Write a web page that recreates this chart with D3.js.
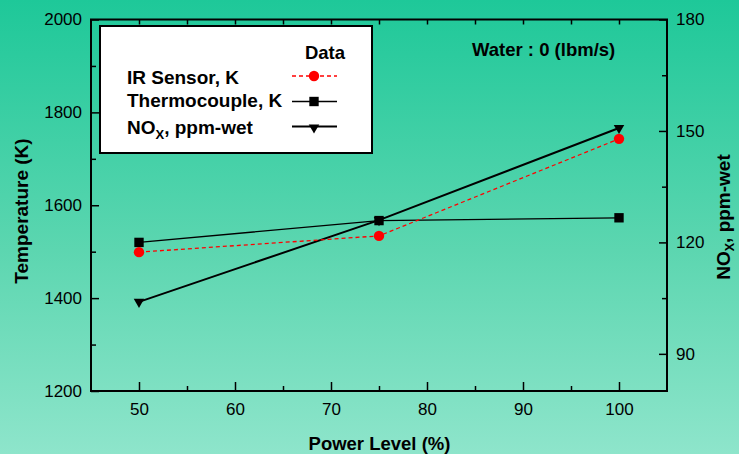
<!DOCTYPE html>
<html>
<head>
<meta charset="utf-8">
<script src="https://cdn.jsdelivr.net/npm/d3@7/dist/d3.min.js"></script>
<style>
  html, body { margin: 0; padding: 0; overflow: hidden; }
  svg { display: block; font-family: "Liberation Sans", Arial, sans-serif; }
</style>
</head>
<body>
<svg id="chart" width="739" height="454"></svg>
<script>
// Power level settings (%)
const power = [50, 75, 100];
// Temperatures (K)
const irSensor = [1499, 1534, 1743];
const thermocouple = [1520, 1567, 1573];
// NOx emissions (ppm-wet)
const nox = [104, 126, 150.8];

const xTicks = [50, 60, 70, 80, 90, 100];
const xMinorTicks = [55, 65, 75, 85, 95];
const xTopTicks = [50, 55, 60, 65, 70, 75, 80, 85, 90, 95, 100];
const tempTicks = [1200, 1400, 1600, 1800, 2000];
const tempMinorTicks = [1300, 1500, 1700, 1900];
const noxTicks = [90, 120, 150, 180];
const noxMinorTicks = [105, 135, 165];

const svg = d3.select("#chart");
const W = 739, H = 454;
const plot = { left: 91, right: 667, top: 19.5, bottom: 391 };
const fmt = d3.format("d");

// background gradient
const defs = svg.append("defs");
const grad = defs.append("linearGradient").attr("id", "bg")
  .attr("x1", 0).attr("y1", 0).attr("x2", 0).attr("y2", 1);
grad.append("stop").attr("offset", "0%").attr("stop-color", "#1ec899");
grad.append("stop").attr("offset", "55%").attr("stop-color", "#5cd6b0");
grad.append("stop").attr("offset", "100%").attr("stop-color", "#8ee5cb");
svg.append("rect").attr("width", W).attr("height", H).attr("fill", "url(#bg)");

const x = d3.scaleLinear().domain([45, 105]).range([plot.left, plot.right]);
const yT = d3.scaleLinear().domain([1200, 2000]).range([plot.bottom, plot.top]);
const yN = d3.scaleLinear().domain([80, 180]).range([plot.bottom, plot.top]);

function styleAxis(g, fontSize) {
  g.select(".domain").remove();
  g.selectAll(".tick line").attr("stroke", "#000").attr("stroke-width", 1.5);
  g.selectAll(".tick text").attr("fill", "#000").attr("font-size", fontSize)
    .attr("font-family", "Liberation Sans, Arial, sans-serif");
}

// bottom axis
svg.append("g").attr("transform", `translate(0,${plot.bottom})`)
  .call(d3.axisBottom(x).tickValues(xTicks).tickFormat(fmt).tickSizeInner(-9).tickSizeOuter(0).tickPadding(12))
  .call(g => styleAxis(g, 17));
svg.append("g").attr("transform", `translate(0,${plot.bottom})`)
  .call(d3.axisBottom(x).tickValues(xMinorTicks).tickSizeInner(-5).tickSizeOuter(0).tickFormat(""))
  .call(g => styleAxis(g, 17));
// top axis
svg.append("g").attr("transform", `translate(0,${plot.top})`)
  .call(d3.axisTop(x).tickValues(xTopTicks).tickSizeInner(-5).tickSizeOuter(0).tickFormat(""))
  .call(g => styleAxis(g, 17));
// left axis
svg.append("g").attr("transform", `translate(${plot.left},0)`)
  .call(d3.axisLeft(yT).tickValues(tempTicks).tickFormat(fmt).tickSizeInner(-8).tickSizeOuter(0).tickPadding(9))
  .call(g => styleAxis(g, 17));
svg.append("g").attr("transform", `translate(${plot.left},0)`)
  .call(d3.axisLeft(yT).tickValues(tempMinorTicks).tickSizeInner(-5).tickSizeOuter(0).tickFormat(""))
  .call(g => styleAxis(g, 17));
// right axis
svg.append("g").attr("transform", `translate(${plot.right},0)`)
  .call(d3.axisRight(yN).tickValues(noxTicks).tickFormat(fmt).tickSizeInner(-8).tickSizeOuter(0).tickPadding(9))
  .call(g => styleAxis(g, 17));
svg.append("g").attr("transform", `translate(${plot.right},0)`)
  .call(d3.axisRight(yN).tickValues(noxMinorTicks).tickSizeInner(-5).tickSizeOuter(0).tickFormat(""))
  .call(g => styleAxis(g, 17));

// plot frame
svg.append("rect")
  .attr("x", plot.left).attr("y", plot.top)
  .attr("width", plot.right - plot.left).attr("height", plot.bottom - plot.top)
  .attr("fill", "none").attr("stroke", "#000").attr("stroke-width", 2);

// axis titles
svg.append("text").attr("x", (plot.left + plot.right) / 2 + 0.5).attr("y", 450)
  .attr("text-anchor", "middle").attr("font-size", 18.5).attr("font-weight", "bold")
  .text("Power Level (%)");
svg.append("text").attr("transform", "translate(28,211) rotate(-90)")
  .attr("text-anchor", "middle").attr("font-size", 19).attr("font-weight", "bold")
  .text("Temperature (K)");
const rt = svg.append("text").attr("transform", "translate(730,217) rotate(-90)")
  .attr("text-anchor", "middle").attr("font-size", 19).attr("font-weight", "bold");
rt.append("tspan").text("NO");
rt.append("tspan").attr("font-size", 12.5).attr("dy", 4).text("X");
rt.append("tspan").attr("dy", -4).text(", ppm-wet");

// annotation
svg.append("text").attr("x", 472).attr("y", 56)
  .attr("font-size", 18.5).attr("font-weight", "bold").text("Water : 0 (lbm/s)");

// series
const tempLine = d3.line().x((d, i) => x(power[i])).y(d => yT(d));
const noxLine = d3.line().x((d, i) => x(power[i])).y(d => yN(d));
const triDown = d3.symbol().type(d3.symbolTriangle).size(48);
const square = d3.symbol().type(d3.symbolSquare).size(88);

svg.append("path").datum(nox).attr("d", noxLine)
  .attr("fill", "none").attr("stroke", "#000").attr("stroke-width", 2);
svg.append("g").selectAll("path").data(nox).join("path")
  .attr("d", triDown)
  .attr("transform", (d, i) => `translate(${x(power[i])},${yN(d)}) rotate(180)`)
  .attr("fill", "#000");

svg.append("path").datum(thermocouple).attr("d", tempLine)
  .attr("fill", "none").attr("stroke", "#000").attr("stroke-width", 1.3);
svg.append("g").selectAll("path").data(thermocouple).join("path")
  .attr("d", square)
  .attr("transform", (d, i) => `translate(${x(power[i])},${yT(d)})`)
  .attr("fill", "#000");

svg.append("path").datum(irSensor).attr("d", tempLine)
  .attr("fill", "none").attr("stroke", "#ff0000").attr("stroke-width", 1.3)
  .attr("stroke-dasharray", "4,3");
svg.append("g").selectAll("circle").data(irSensor).join("circle")
  .attr("cx", (d, i) => x(power[i])).attr("cy", d => yT(d)).attr("r", 5.2)
  .attr("fill", "#ff0000");

// legend
const lg = svg.append("g");
lg.append("rect").attr("x", 100).attr("y", 26).attr("width", 272).attr("height", 127)
  .attr("fill", "#fff").attr("stroke", "#000").attr("stroke-width", 2);
lg.append("text").attr("x", 345).attr("y", 59).attr("text-anchor", "end")
  .attr("font-size", 18.5).attr("font-weight", "bold").text("Data");

const lx0 = 292, lx1 = 337, lmx = 314;
// IR sensor entry
lg.append("text").attr("x", 127).attr("y", 84).attr("font-size", 19).attr("font-weight", "bold")
  .text("IR Sensor, K");
lg.append("line").attr("x1", lx0).attr("x2", lx1).attr("y1", 76).attr("y2", 76)
  .attr("stroke", "#ff0000").attr("stroke-width", 1.3).attr("stroke-dasharray", "4,3");
lg.append("circle").attr("cx", lmx).attr("cy", 76).attr("r", 5.2).attr("fill", "#ff0000");
// thermocouple entry
lg.append("text").attr("x", 127).attr("y", 107).attr("font-size", 19).attr("font-weight", "bold")
  .text("Thermocouple, K");
lg.append("line").attr("x1", lx0).attr("x2", lx1).attr("y1", 101.5).attr("y2", 101.5)
  .attr("stroke", "#000").attr("stroke-width", 1.3);
lg.append("path").attr("d", square).attr("transform", `translate(${lmx},101.5)`).attr("fill", "#000");
// NOx entry
const nt = lg.append("text").attr("x", 127).attr("y", 134).attr("font-size", 19).attr("font-weight", "bold");
nt.append("tspan").text("NO");
nt.append("tspan").attr("font-size", 13).attr("dy", 5).text("X");
nt.append("tspan").attr("dy", -5).text(", ppm-wet");
lg.append("line").attr("x1", lx0).attr("x2", lx1).attr("y1", 126.5).attr("y2", 126.5)
  .attr("stroke", "#000").attr("stroke-width", 2);
lg.append("path").attr("d", triDown).attr("transform", `translate(${lmx},127.5) rotate(180)`).attr("fill", "#000");
</script>
</body>
</html>
